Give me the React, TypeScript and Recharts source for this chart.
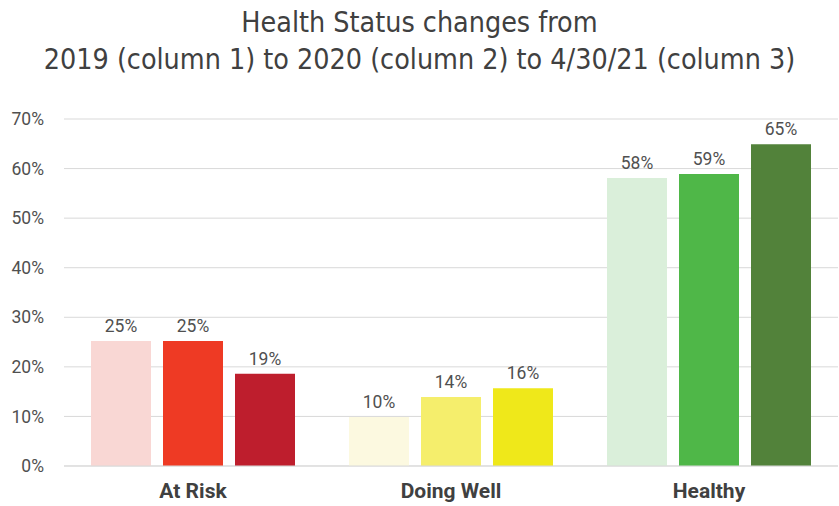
import { BarChart, Bar, XAxis, YAxis, CartesianGrid, Cell, LabelList } from 'recharts';

const categories = ['At Risk', 'Doing Well', 'Healthy'];
const values2019 = [25.2, 9.9, 58.1];
const values2020 = [25.2, 13.9, 58.9];
const values2021 = [18.6, 15.7, 64.9];
const yTicks = [0, 10, 20, 30, 40, 50, 60, 70];

const colors2019 = ['#F9D7D4', '#FCF9E0', '#DAEFDA'];
const colors2020 = ['#EE3A24', '#F5EE6C', '#4FB748'];
const colors2021 = ['#BE1E2D', '#EFE81A', '#52823A'];

const data = categories.map((name, i) => ({
    name,
    y2019: values2019[i],
    y2020: values2020[i],
    y2021: values2021[i],
}));

const fmt = (v: any) => Math.round(Number(v)) + '%';

export default function App() {
    const labelStyle = { fill: '#505050', fontSize: 17.5, fontFamily: 'Roboto, sans-serif' };
    return (
        <div style={{ position: 'absolute', left: 0, top: 0, width: 839, height: 506, background: '#fff' }}>
            <div
                style={{
                    position: 'absolute',
                    left: 0,
                    top: 4,
                    width: 839,
                    textAlign: 'center',
                    fontFamily: '"Liberation Sans Narrow", "DejaVu Sans Condensed", sans-serif',
                    fontSize: 28.4,
                    lineHeight: '37px',
                    color: '#404040',
                }}
            >
                <div>Health Status changes from</div>
                <div>2019 (column 1) to 2020 (column 2) to 4/30/21 (column 3)</div>
            </div>
            <BarChart
                width={839}
                height={506}
                data={data}
                margin={{ top: 119, right: 1, bottom: 0, left: 0 }}
                barCategoryGap={27}
                barGap={12}
            >
                <CartesianGrid vertical={false} stroke="#d9d9d9" />
                <XAxis
                    dataKey="name"
                    height={40}
                    axisLine={{ stroke: '#d9d9d9' }}
                    tickLine={false}
                    tickMargin={11}
                    tick={{ fill: '#404040', fontSize: 21, fontWeight: 700, fontFamily: 'Roboto, sans-serif' }}
                />
                <YAxis
                    width={64}
                    domain={[0, 70]}
                    ticks={yTicks}
                    axisLine={false}
                    tickLine={false}
                    tickMargin={14}
                    tickFormatter={(v) => v + '%'}
                    tick={{ fill: '#505050', fontSize: 17.5, fontFamily: 'Roboto, sans-serif' }}
                />
                <Bar dataKey="y2019" isAnimationActive={false}>
                    {data.map((d, i) => (
                        <Cell key={d.name} fill={colors2019[i]} />
                    ))}
                    <LabelList dataKey="y2019" position="top" offset={9} formatter={fmt} style={labelStyle} />
                </Bar>
                <Bar dataKey="y2020" isAnimationActive={false}>
                    {data.map((d, i) => (
                        <Cell key={d.name} fill={colors2020[i]} />
                    ))}
                    <LabelList dataKey="y2020" position="top" offset={9} formatter={fmt} style={labelStyle} />
                </Bar>
                <Bar dataKey="y2021" isAnimationActive={false}>
                    {data.map((d, i) => (
                        <Cell key={d.name} fill={colors2021[i]} />
                    ))}
                    <LabelList dataKey="y2021" position="top" offset={9} formatter={fmt} style={labelStyle} />
                </Bar>
            </BarChart>
        </div>
    );
}
